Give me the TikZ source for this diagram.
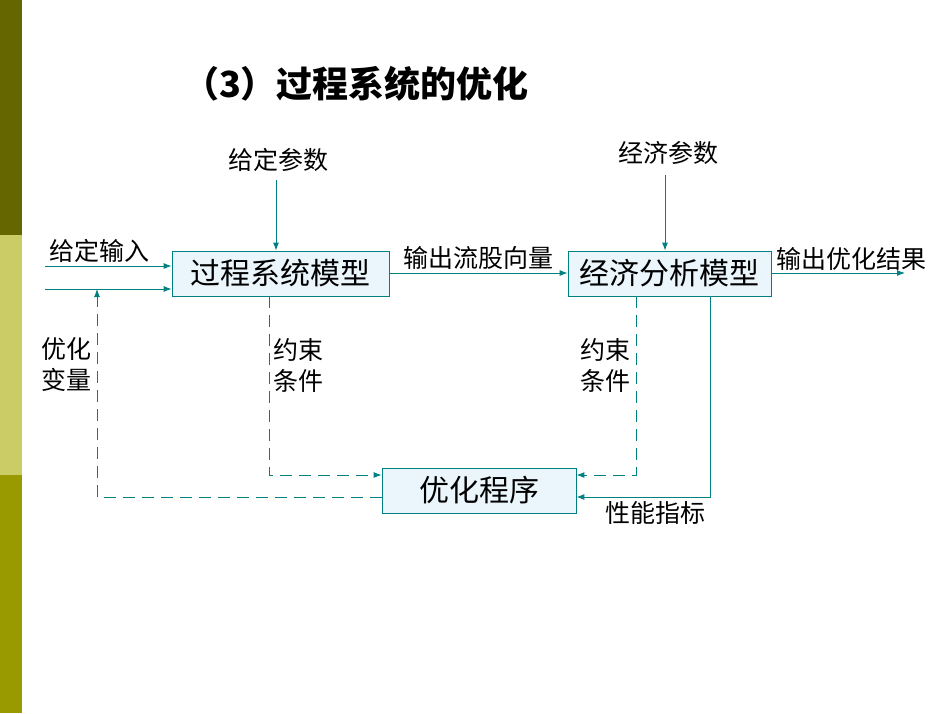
\documentclass[tikz,border=0pt]{standalone}
\usepackage{fontspec}
\newfontfamily\cjk{Noto Sans CJK SC}
\newfontfamily\cjkl{Noto Sans CJK SC Light}
\usetikzlibrary{arrows.meta}
\definecolor{tl}{RGB}{0,128,128}
\definecolor{bf}{RGB}{234,246,251}
\begin{document}
\begin{tikzpicture}[x=1pt,y=-1pt,
 box/.style={draw=tl,fill=bf,line width=0.8pt,minimum height=45pt,inner sep=0pt,font=\cjk\fontsize{30}{30}\selectfont},
 lab/.style={font=\cjk\fontsize{25}{31}\selectfont,align=left,inner sep=0pt},
 ar/.style={tl,line width=0.9pt,-{Latex[length=8pt,width=6pt]}},
 da/.style={ar,dash pattern=on 12pt off 7pt}]
\useasboundingbox (0,0) rectangle (950,713);
\fill[color={rgb,255:red,102;green,102;blue,0}] (0,0) rectangle (22,235);
\fill[color={rgb,255:red,204;green,204;blue,102}] (0,235) rectangle (22,475);
\fill[color={rgb,255:red,153;green,153;blue,0}] (0,475) rectangle (22,713);
\node[font=\cjk\bfseries\fontsize{36}{36}\selectfont] (t) at (356,84) {（3）过程系统的优化};
\node[box,minimum width=217pt] (b1) at (280.5,273.5) {过程系统模型};
\node[box,minimum width=203pt] (b2) at (669.5,273.5) {经济分析模型};
\node[box,minimum width=194pt] (b3) at (479,490.5) {优化程序};
\node[lab] (gp) at (278,160) {给定参数};
\node[lab] (ep) at (668,153) {经济参数};
\node[lab] (gi) at (99,251) {给定输入};
\node[lab] (os) at (478,258) {输出流股向量};
\node[lab] (oo) at (851,259) {输出优化结果};
\node[lab] (ov) at (66,365) {优化\\变量};
\node[lab] (c1) at (298,365) {约束\\条件};
\node[lab] (c2) at (605,365) {约束\\条件};
\node[lab] (pi) at (655,513) {性能指标};
\coordinate (i1) at (45,266);
\coordinate (i2) at (45,289);
\coordinate (o2) at (905,273);
\draw[ar] (276,180) -- (b1.north -| 276,0);
\draw[ar] (665,175) -- (b2.north -| 665,0);
\draw[ar] (i1) -- (i1 -| b1.west);
\draw[ar] (i2) -- (i2 -| b1.west);
\draw[ar] (b1.east |- 0,273) -- (b2.west |- 0,273);
\draw[ar] (b2.east |- 0,273) -- (o2);
\draw[da] (b3.west |- 0,497) -- (97,497) -- (97,289);
\draw[da] (b1.south -| 269,0) -- (269,475) -- (b3.west |- 0,475);
\draw[da] (b2.south -| 636,0) -- (636,475) -- (b3.east |- 0,475);
\draw[ar] (b2.south -| 710,0) -- (710,497) -- (b3.east |- 0,497);
\end{tikzpicture}
\end{document}
